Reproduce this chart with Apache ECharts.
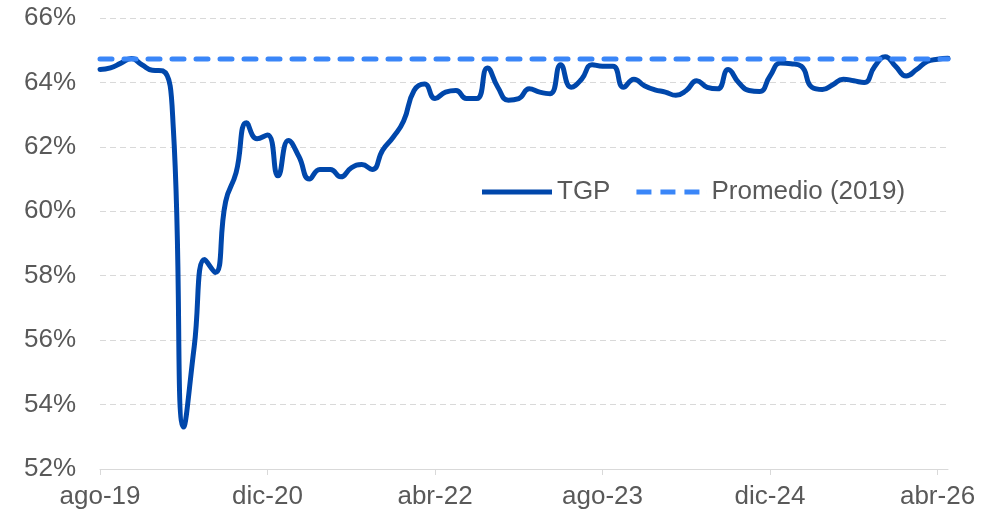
<!DOCTYPE html>
<html>
<head>
<meta charset="utf-8">
<script src="https://cdn.jsdelivr.net/npm/echarts@6/dist/echarts.min.js"></script>
<style>
    html, body { margin: 0; padding: 0; background: #fff; }
    #chart { width: 1008px; height: 519px; }
</style>
</head>
<body>
<div id="chart"></div>
<script>
// meses (ago-19 .. may-26)
const months = [
    'ago-19', 'sep-19', 'oct-19', 'nov-19', 'dic-19',
    'ene-20', 'feb-20', 'mar-20', 'abr-20', 'may-20', 'jun-20', 'jul-20', 'ago-20', 'sep-20', 'oct-20', 'nov-20', 'dic-20',
    'ene-21', 'feb-21', 'mar-21', 'abr-21', 'may-21', 'jun-21', 'jul-21', 'ago-21', 'sep-21', 'oct-21', 'nov-21', 'dic-21',
    'ene-22', 'feb-22', 'mar-22', 'abr-22', 'may-22', 'jun-22', 'jul-22', 'ago-22', 'sep-22', 'oct-22', 'nov-22', 'dic-22',
    'ene-23', 'feb-23', 'mar-23', 'abr-23', 'may-23', 'jun-23', 'jul-23', 'ago-23', 'sep-23', 'oct-23', 'nov-23', 'dic-23',
    'ene-24', 'feb-24', 'mar-24', 'abr-24', 'may-24', 'jun-24', 'jul-24', 'ago-24', 'sep-24', 'oct-24', 'nov-24', 'dic-24',
    'ene-25', 'feb-25', 'mar-25', 'abr-25', 'may-25', 'jun-25', 'jul-25', 'ago-25', 'sep-25', 'oct-25', 'nov-25', 'dic-25',
    'ene-26', 'feb-26', 'mar-26', 'abr-26', 'may-26'
];

// tasa global de participación (%)
const tgp = [
    64.4, 64.45, 64.6, 64.74, 64.55, 64.38, 64.36, 62.6, 53.3, 55.8,
    58.5, 58.1, 60.3, 61.2, 62.75, 62.25, 62.37, 61.1, 62.2, 61.7,
    61.0, 61.3, 61.3, 61.07, 61.35, 61.45, 61.3, 61.9, 62.3, 62.8,
    63.75, 63.95, 63.5, 63.7, 63.75, 63.5, 63.5, 64.45, 63.85, 63.45,
    63.5, 63.8, 63.7, 63.65, 64.55, 63.85, 64.1, 64.55, 64.5, 64.5,
    63.85, 64.1, 63.9, 63.77, 63.7, 63.6, 63.75, 64.05, 63.85, 63.8,
    64.4, 64.0, 63.75, 63.72, 64.2, 64.6, 64.58, 64.5, 63.85, 63.78,
    63.93, 64.1, 64.05, 64.0, 64.5, 64.8, 64.5, 64.2, 64.4, 64.65,
    64.72, 64.75
];

// promedio de 2019
const promedio2019 = 64.73;
const promedio = months.map(() => promedio2019);

const yTicks = { min: 52, max: 66, step: 2 };

const font = 'Liberation Sans, Arial, sans-serif';
const grey = '#595959';
const blueDark = '#0047ab';
const blueLight = '#3a86f8';

const chart = echarts.init(document.getElementById('chart'));
chart.setOption({
    backgroundColor: '#fff',
    animation: false,
    grid: {
        left: 100,
        right: 60,
        top: 18,
        bottom: 50
    },
    legend: {
        left: 477,
        top: 174,
        itemWidth: 70,
        itemHeight: 5,
        itemGap: 26,
        textStyle: {
            fontFamily: font,
            fontSize: 26,
            color: grey
        },
        data: [
            { name: 'TGP', icon: 'path://M0 0H70V5H0Z' },
            {
                name: 'Promedio (2019)',
                icon: 'path://M0 0H15V5H0Z M24 0H39V5H24Z M48 0H63V5H48Z M70 0H70.01V5H70Z'
            }
        ]
    },
    xAxis: {
        type: 'category',
        boundaryGap: false,
        data: months,
        axisLine: { lineStyle: { color: '#d9d9d9', width: 1 } },
        axisTick: {
            interval: 15,
            length: 6,
            lineStyle: { color: '#d9d9d9' }
        },
        axisLabel: {
            interval: 15,
            margin: 15,
            fontFamily: font,
            fontSize: 26,
            color: grey
        },
        splitLine: { show: false }
    },
    yAxis: {
        type: 'value',
        min: yTicks.min,
        max: yTicks.max,
        interval: yTicks.step,
        axisLine: { show: false },
        axisTick: { show: false },
        axisLabel: {
            formatter: '{value}%',
            margin: 24,
            fontFamily: font,
            fontSize: 26,
            color: grey
        },
        splitLine: {
            lineStyle: { color: '#d9d9d9', type: [6, 4], width: 1 }
        }
    },
    series: [
        {
            name: 'TGP',
            type: 'line',
            data: tgp,
            smooth: 0.5,
            symbol: 'none',
            z: 2,
            lineStyle: { color: blueDark, width: 5, cap: 'round', join: 'round' },
            itemStyle: { color: blueDark }
        },
        {
            name: 'Promedio (2019)',
            type: 'line',
            data: promedio,
            symbol: 'none',
            z: 3,
            lineStyle: { color: blueLight, width: 5, type: [12, 12], cap: 'round' },
            itemStyle: { color: blueLight }
        }
    ]
});
</script>
</body>
</html>
